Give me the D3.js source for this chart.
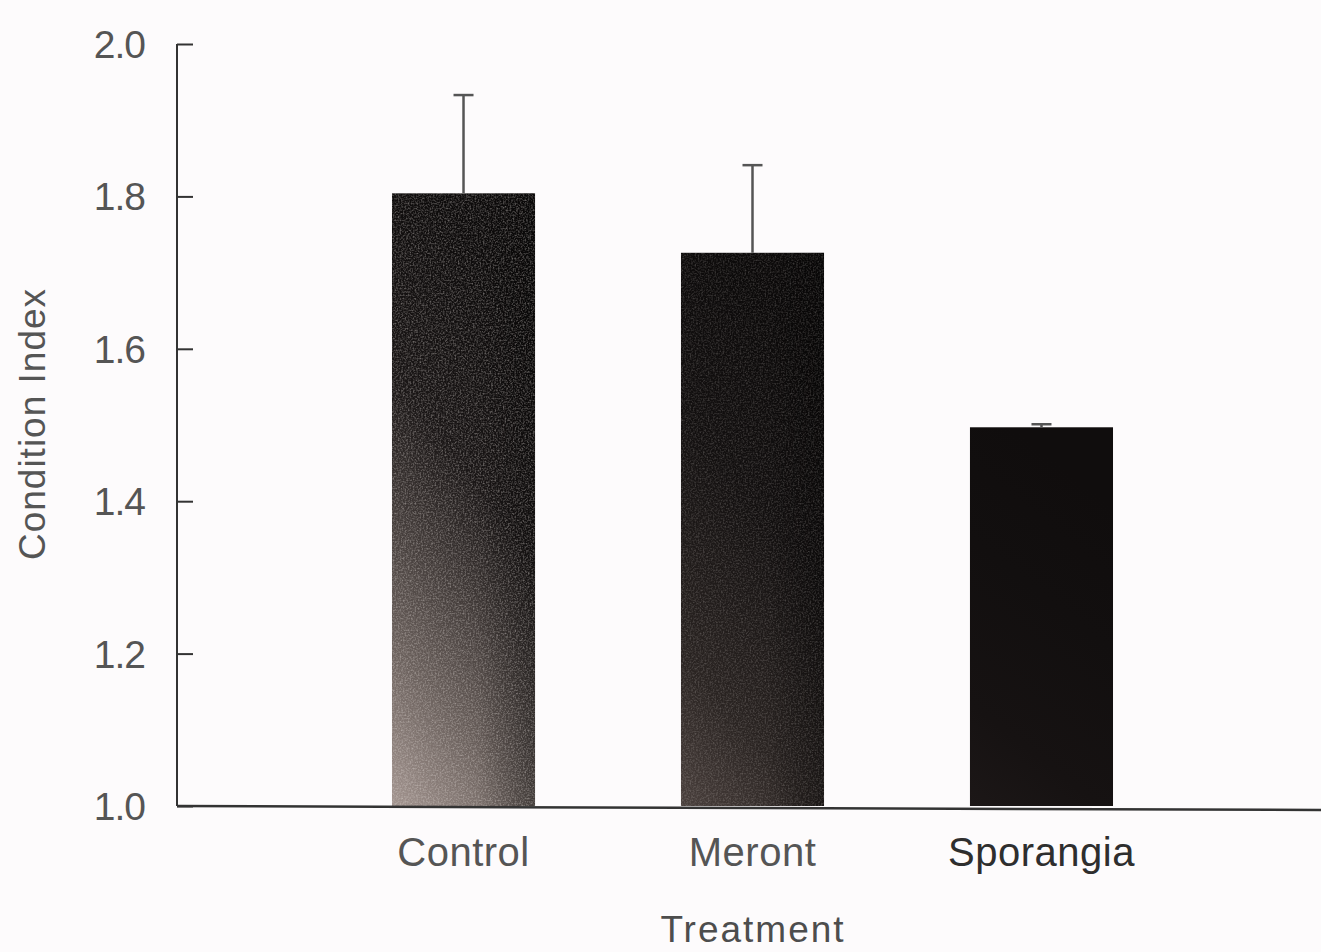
<!DOCTYPE html>
<meta charset="utf-8">
<style>
body { margin: 0; background: #fdfbfc; }
svg { display: block; }
.tick-label, .cat-label, .axis-title {
  font-family: "Liberation Sans", Arial, Helvetica, sans-serif;
  fill: #4d4d4d;
}
</style>
<svg id="chart" width="1321" height="952"></svg>
<script src="https://cdnjs.cloudflare.com/ajax/libs/d3/7.8.5/d3.min.js"></script>
<script>

var categories = ["Control", "Meront", "Sporangia"],
    means = [1.804, 1.726, 1.497],
    errors = [0.129, 0.115, 0.004],
    yTicks = [1.0, 1.2, 1.4, 1.6, 1.8, 2.0];

// bar shading, top colour -> bottom colour
var shades = [
  ["#0d0b0b", "#1a1616", "#6a605c", "#a39590"],
  ["#0c0a0a", "#131010", "#2a2422", "#4a403d"],
  ["#100d0d", "#120f0f", "#161212", "#1c1717"]
];

var svg = d3.select("#chart"),
    width = 1321,
    axisLeft = 177,
    axisTop = 44,
    axisBottom = 806;

var y = d3.scaleLinear().domain([1.0, 2.0]).range([axisBottom, axisTop]);

var x = d3.scaleBand()
    .domain(categories)
    .range([247.5, 1257.5])
    .paddingInner(0.505)
    .paddingOuter(0.5);

var defs = svg.append("defs");

shades.forEach(function(s, i) {
  var g = defs.append("linearGradient")
      .attr("id", "grad" + i)
      .attr("x1", "0.3").attr("y1", "0").attr("x2", "0").attr("y2", "1");
  s.forEach(function(c, j) {
    g.append("stop").attr("offset", [0, 0.35, 0.75, 1][j]).attr("stop-color", c);
  });
});

// darker right edge on the shaded bars
var edge = defs.append("linearGradient").attr("id", "edge")
    .attr("x1", "0").attr("y1", "0").attr("x2", "1").attr("y2", "0");
edge.append("stop").attr("offset", 0).attr("stop-color", "#000").attr("stop-opacity", 0);
edge.append("stop").attr("offset", 0.6).attr("stop-color", "#000").attr("stop-opacity", 0);
edge.append("stop").attr("offset", 1).attr("stop-color", "#000").attr("stop-opacity", 0.35);

// grainy texture like the photocopied original
var f = defs.append("filter").attr("id", "grain")
    .attr("x", 0).attr("y", 0).attr("width", 1).attr("height", 1);
f.append("feTurbulence")
    .attr("type", "fractalNoise").attr("baseFrequency", 0.6)
    .attr("numOctaves", 2).attr("seed", 4).attr("result", "noise");
f.append("feColorMatrix").attr("in", "noise").attr("type", "matrix")
    .attr("values", "0 0 0 0 0.8  0 0 0 0 0.75  0 0 0 0 0.72  0 0 0 -2.2 1.3")
    .attr("result", "spots");
f.append("feComposite").attr("in", "spots").attr("in2", "SourceGraphic").attr("operator", "in");

var data = categories.map(function(c, i) {
  return {name: c, mean: means[i], err: errors[i], i: i};
});

var bars = svg.append("g");

bars.selectAll("rect.bar")
  .data(data)
  .enter().append("rect")
    .attr("class", "bar")
    .attr("x", function(d) { return x(d.name); })
    .attr("y", function(d) { return y(d.mean); })
    .attr("width", x.bandwidth())
    .attr("height", function(d) { return y(1.0) - y(d.mean); })
    .attr("fill", function(d) { return "url(#grad" + d.i + ")"; });

bars.selectAll("rect.edge")
  .data(data.filter(function(d) { return d.i < 2; }))
  .enter().append("rect")
    .attr("class", "edge")
    .attr("x", function(d) { return x(d.name); })
    .attr("y", function(d) { return y(d.mean); })
    .attr("width", x.bandwidth())
    .attr("height", function(d) { return y(1.0) - y(d.mean); })
    .attr("fill", "url(#edge)");

bars.selectAll("rect.grain")
  .data(data.filter(function(d) { return d.i < 2; }))
  .enter().append("rect")
    .attr("class", "grain")
    .attr("x", function(d) { return x(d.name); })
    .attr("y", function(d) { return y(d.mean); })
    .attr("width", x.bandwidth())
    .attr("height", function(d) { return y(1.0) - y(d.mean); })
    .attr("fill", "#000")
    .attr("filter", "url(#grain)")
    .attr("opacity", function(d) { return d.i === 0 ? 0.4 : 0.22; });

// error bars (upper only)
var eb = svg.append("g").attr("stroke", "#555").attr("stroke-width", 2.5);
eb.selectAll("line.stem")
  .data(data)
  .enter().append("line")
    .attr("x1", function(d) { return x(d.name) + x.bandwidth() / 2; })
    .attr("x2", function(d) { return x(d.name) + x.bandwidth() / 2; })
    .attr("y1", function(d) { return y(d.mean); })
    .attr("y2", function(d) { return y(d.mean + d.err); });
eb.selectAll("line.cap")
  .data(data)
  .enter().append("line")
    .attr("x1", function(d) { return x(d.name) + x.bandwidth() / 2 - 10; })
    .attr("x2", function(d) { return x(d.name) + x.bandwidth() / 2 + 10; })
    .attr("y1", function(d) { return y(d.mean + d.err); })
    .attr("y2", function(d) { return y(d.mean + d.err); });

// y axis
var yAxis = svg.append("g")
    .attr("transform", "translate(" + axisLeft + ",0)")
    .call(d3.axisRight(y).tickValues(yTicks).tickSize(16).tickFormat(""));
yAxis.select(".domain").attr("d", "M0," + axisTop + "V" + axisBottom).attr("stroke", "#333").attr("stroke-width", 2);
yAxis.selectAll(".tick line").attr("stroke", "#333").attr("stroke-width", 2);

svg.append("g").selectAll("text")
  .data(yTicks)
  .enter().append("text")
    .attr("class", "tick-label")
    .attr("x", 145)
    .attr("y", function(d) { return y(d); })
    .attr("dy", "0.36em")
    .attr("text-anchor", "end")
    .style("font-size", "39px")
    .style("letter-spacing", "-1px")
    .style("fill", "#555")
    .text(function(d) { return d3.format(".1f")(d); });

// x axis line, runs to the right edge
svg.append("line")
    .attr("x1", axisLeft).attr("x2", width)
    .attr("y1", axisBottom).attr("y2", axisBottom + 4)
    .attr("stroke", "#333").attr("stroke-width", 2.5);

svg.append("g").selectAll("text")
  .data(categories)
  .enter().append("text")
    .attr("class", "cat-label")
    .attr("x", function(d) { return x(d) + x.bandwidth() / 2; })
    .attr("y", 866)
    .attr("text-anchor", "middle")
    .style("font-size", "40px")
    .style("letter-spacing", "0.5px")
    .style("fill", function(d, i) { return i === 2 ? "#2e2e2e" : "#555"; })
    .text(function(d) { return d; });

svg.append("text")
    .attr("class", "axis-title")
    .attr("x", 753)
    .attr("y", 942)
    .attr("text-anchor", "middle")
    .style("font-size", "37px")
    .style("letter-spacing", "2px")
    .text("Treatment");

svg.append("text")
    .attr("class", "axis-title")
    .attr("transform", "translate(45,424) rotate(-90)")
    .attr("text-anchor", "middle")
    .style("font-size", "37px")
    .style("letter-spacing", "1px")
    .style("fill", "#555")
    .text("Condition Index");

</script>
